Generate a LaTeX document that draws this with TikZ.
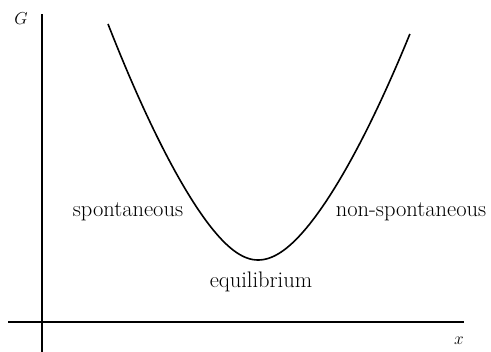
\documentclass[tikz,border=0pt]{standalone}
\begin{document}
\begin{tikzpicture}[x=1pt,y=-1pt,
  axis/.style={line width=1.1pt},
  curve/.style={line width=1.6pt},
  lbl/.style={font=\fontsize{22.5}{26}\selectfont, inner sep=0pt},
  var/.style={font=\fontsize{18.5}{22}\selectfont, inner sep=0pt}]
\useasboundingbox (0,0) rectangle (491,352);
\coordinate (yb) at (42,352);
\coordinate (yt) at (42,14);
\coordinate (xl) at (8,322);
\coordinate (xr) at (464,322);
\draw[axis] (yb) -- (yt);
\draw[axis] (xl) -- (xr);
\node[var] (G) at (21,19) {$G$};
\node[var] (X) at (459,341) {$x$};
\draw[curve] plot[domain=1.5:0, samples=80, smooth] ({258-100*\x},{260-120.5*(sqrt(\x*\x+0.25)-0.5)-47*\x*\x})
  -- plot[domain=0:1.52, samples=80, smooth] ({258+100*\x},{260-107*(sqrt(\x*\x+0.25)-0.5)-47*\x*\x});
\node[lbl] (sp) at (128,212) {spontaneous};
\node[lbl] (nsp) at (411,212) {non-spontaneous};
\node[lbl] (eq) at (261,282) {equilibrium};
\end{tikzpicture}
\end{document}
